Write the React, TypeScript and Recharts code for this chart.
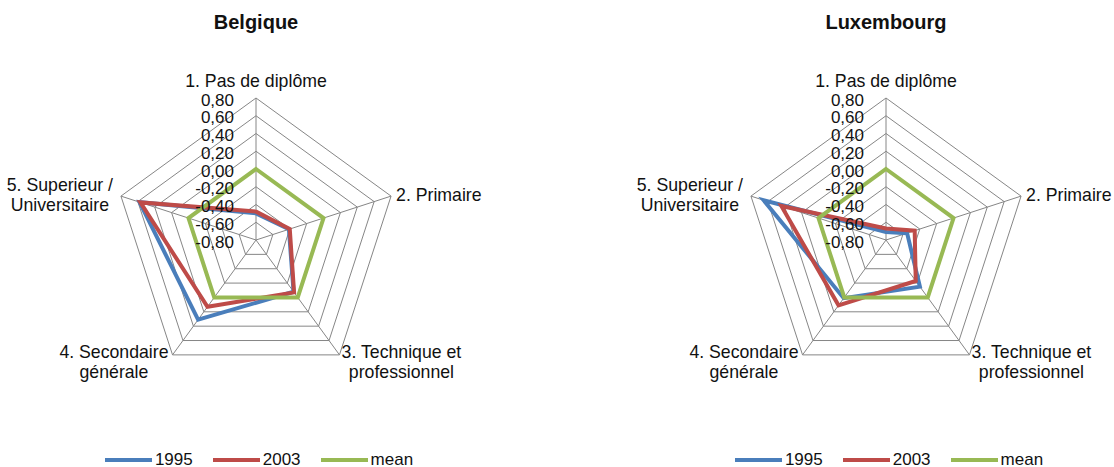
import {
  RadarChart,
  PolarGrid,
  PolarAngleAxis,
  PolarRadiusAxis,
  Radar,
  Legend,
} from 'recharts';

const categoryLines: string[][] = [
  ['1. Pas de diplôme'],
  ['2. Primaire'],
  ['3. Technique et', 'professionnel'],
  ['4. Secondaire', 'générale'],
  ['5. Superieur /', 'Universitaire'],
];
const categories = categoryLines.map((l) => l.join(' '));

const belgique1995 = [-0.5, -0.41, -0.08, 0.31, 0.58];
const belgique2003 = [-0.48, -0.4, -0.07, 0.13, 0.57];
const belgiqueMean = [0, 0, 0, 0, 0];

const luxembourg1995 = [-0.71, -0.55, -0.15, 0.01, 0.65];
const luxembourg2003 = [-0.67, -0.46, -0.23, 0.11, 0.44];
const luxembourgMean = [0, 0, 0, 0, 0];

const seriesNames = ['1995', '2003', 'mean'];
const seriesColors = ['#4a7ebb', '#be4b48', '#98b954'];
const radiusTicks = [-0.8, -0.6, -0.4, -0.2, 0, 0.2, 0.4, 0.6, 0.8];
const radiusDomain: [number, number] = [-0.8, 0.8];

const FONT = '"Liberation Sans", Arial, sans-serif';
const LABEL_SIZE = 17.7;
const TICK_SIZE = 17;

const W = 557;
const H = 467;
const CY = 240;
const R = 142;

let ctx: CanvasRenderingContext2D | null = null;
function textWidth(s: string, size: number) {
  if (!ctx) ctx = document.createElement('canvas').getContext('2d');
  if (!ctx) return s.length * size * 0.5;
  ctx.font = `${size}px ${FONT}`;
  return ctx.measureText(s).width;
}

function buildRows(a: number[], b: number[], m: number[]) {
  return categories.map((cat, i) => ({ cat, s1995: a[i], s2003: b[i], mean: m[i] }));
}

function AngleTick(props: any) {
  const { x, y, payload, index } = props;
  const lines = categoryLines[index] ?? [String(payload.value)];
  const a = (payload.coordinate * Math.PI) / 180;
  const c = Math.cos(a);
  const s = Math.sin(a);
  const vx = x - 8 * c;
  const vy = y + 8 * s;
  const lh = 20;
  const w = Math.max(...lines.map((l) => textWidth(l, LABEL_SIZE)));
  let midX: number;
  let first: number;
  if (Math.abs(c) < 0.1) {
    midX = vx;
    first = vy - 11.5 - (lines.length - 1) * lh;
  } else if (s > 0) {
    const left = c > 0 ? vx + 5 : vx - 8 - w;
    midX = left + w / 2;
    first = vy + 5 - ((lines.length - 1) * lh) / 2;
  } else {
    const left = c > 0 ? vx + 2 : vx - 4 - w;
    midX = left + w / 2;
    first = vy + 3;
  }
  return (
    <text textAnchor="middle" fontSize={LABEL_SIZE} fontFamily={FONT} fill="#111">
      {lines.map((l, i) => (
        <tspan key={i} x={midX} y={first + i * lh}>
          {l}
        </tspan>
      ))}
    </text>
  );
}

function RadiusTick(props: any) {
  const { x, y, payload } = props;
  const label = Number(payload.value).toFixed(2).replace('.', ',');
  return (
    <text
      x={x - 22}
      y={y + 2}
      textAnchor="end"
      dominantBaseline="central"
      fontSize={TICK_SIZE}
      fontFamily={FONT}
      fill="#111"
    >
      {label}
    </text>
  );
}

function renderLegend() {
  return (
    <div style={{ display: 'flex', justifyContent: 'center', fontFamily: FONT, fontSize: TICK_SIZE, color: '#111' }}>
      {seriesNames.map((name, i) => (
        <div key={name} style={{ display: 'flex', alignItems: 'center', height: 20, marginLeft: i ? 20 : 0 }}>
          <svg width={47} height={6}>
            <line x1={0} y1={3} x2={47} y2={3} stroke={seriesColors[i]} strokeWidth={4} />
          </svg>
          <span style={{ marginLeft: 3 }}>{name}</span>
        </div>
      ))}
    </div>
  );
}

function CountryRadar({ title, cx, data }: { title: string; cx: number; data: any[] }) {
  return (
    <div style={{ position: 'relative', width: W, height: H }}>
      <div
        style={{
          position: 'absolute',
          left: cx - 150,
          width: 300,
          top: 12,
          textAlign: 'center',
          fontFamily: FONT,
          fontWeight: 'bold',
          fontSize: 20,
          lineHeight: '20px',
          color: '#111',
        }}
      >
        {title}
      </div>
      <RadarChart
        width={W}
        height={H}
        data={data}
        cx={cx}
        cy={CY}
        outerRadius={R}
        margin={{ top: 0, right: 0, bottom: 0, left: 0 }}
      >
        <PolarGrid gridType="polygon" stroke="#868686" strokeWidth={1} />
        <PolarAngleAxis dataKey="cat" tick={<AngleTick />} tickLine={false} axisLine={false} />
        <PolarRadiusAxis
          angle={90}
          type="number"
          scale="linear"
          domain={radiusDomain}
          ticks={radiusTicks as any}
          tickCount={9}
          allowDecimals
          allowDataOverflow
          tick={<RadiusTick />}
          axisLine={false}
          tickLine={false}
        />
        <Radar dataKey="s1995" name="1995" stroke={seriesColors[0]} fill="none" fillOpacity={0} strokeWidth={4} dot={false} isAnimationActive={false} />
        <Radar dataKey="s2003" name="2003" stroke={seriesColors[1]} fill="none" fillOpacity={0} strokeWidth={4} dot={false} isAnimationActive={false} />
        <Radar dataKey="mean" name="mean" stroke={seriesColors[2]} fill="none" fillOpacity={0} strokeWidth={4} dot={false} isAnimationActive={false} />
        <Legend
          content={renderLegend}
          wrapperStyle={{ position: 'absolute', left: cx + 3 - 200, width: 400, top: 450, bottom: 'auto' }}
        />
      </RadarChart>
    </div>
  );
}

export default function App() {
  return (
    <div style={{ position: 'absolute', left: 0, top: 0, width: 1114, height: 467, background: '#fff', display: 'flex' }}>
      <CountryRadar title="Belgique" cx={256} data={buildRows(belgique1995, belgique2003, belgiqueMean)} />
      <CountryRadar title="Luxembourg" cx={886 - W} data={buildRows(luxembourg1995, luxembourg2003, luxembourgMean)} />
    </div>
  );
}
